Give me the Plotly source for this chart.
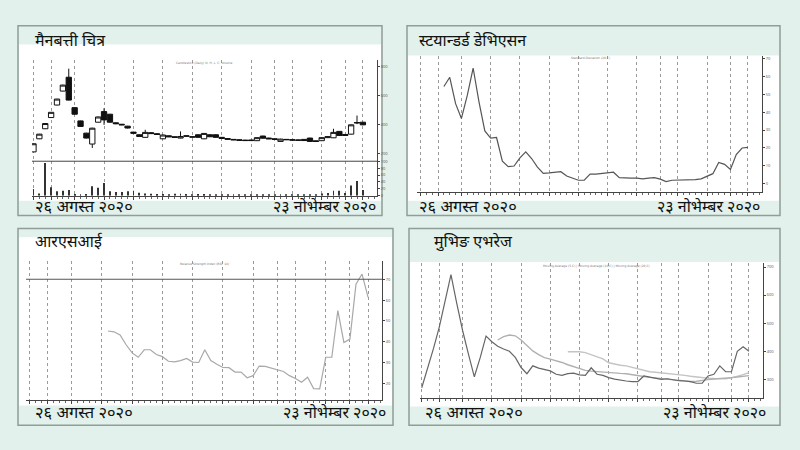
import plotly.graph_objects as go

W, H = 800, 450
def px(x):
    return x / W
def py(y):
    return 1 - y / H

# ---------------- data ----------------
days = list(range(57))
grid_days = [0, 3, 7, 12, 17, 22, 27, 32, 37, 41, 44, 49, 53, 56]

opens = [214, 304, 373, 450, 536, 632, 727, 518, 427, 343, 268, 418, 491, 473, 414, 404, 391, 350, 332, 314,
         346, 339, 304, 325, 318, 309, 325, 318, 332, 304, 332, 332, 314, 306, 300, 297, 295, 296, 291, 323,
         309, 304, 286, 300, 298, 296, 300, 309, 290, 291, 312, 311, 355, 334, 336, 412, 418]
highs = [272, 338, 411, 488, 579, 676, 786, 520, 429, 345, 380, 457, 514, 475, 416, 406, 393, 352, 334, 366,
         350, 342, 334, 327, 320, 355, 327, 320, 334, 344, 334, 334, 316, 308, 302, 299, 297, 298, 314, 325,
         311, 306, 304, 302, 300, 298, 302, 311, 292, 314, 322, 373, 357, 336, 403, 464, 420]
lows = [212, 302, 371, 448, 534, 630, 568, 471, 387, 307, 241, 416, 400, 416, 404, 398, 375, 340, 318, 312,
        338, 332, 302, 316, 312, 307, 320, 313, 312, 302, 316, 312, 304, 299, 295, 292, 290, 290, 289, 306,
        302, 298, 284, 296, 293, 292, 290, 284, 284, 289, 310, 309, 325, 325, 334, 405, 398]
closes = [270, 336, 409, 486, 577, 673, 570, 473, 389, 309, 377, 454, 434, 418, 408, 400, 378, 342, 320, 348,
          340, 334, 330, 318, 314, 320, 322, 316, 314, 341, 318, 314, 306, 301, 297, 294, 292, 292, 312, 308,
          304, 300, 302, 298, 295, 294, 292, 286, 286, 312, 318, 348, 327, 327, 400, 416, 400]
volumes = [20, 7, 95, 25, 13, 15, 17, 5, 3, 5, 28, 23, 37, 13, 11, 11, 13, 15, 9, 7,
           6, 5, 5, 4, 6, 6, 5, 4, 5, 5, 4, 4, 4, 3, 3, 3, 3, 3, 4, 3,
           3, 3, 3, 3, 3, 3, 3, 3, 4, 7, 8, 15, 15, 8, 30, 43, 17]

sd_days = days[4:]
sd_values = [54.4, 59.6, 44.8, 36.5, 49.4, 64.8, 45.8, 29.5, 25.5, 25.8, 12.5, 9.4, 9.8, 14.4, 17.7, 14.0,
             9.2, 5.7, 5.9, 6.3, 6.6, 4.2, 2.8, 1.8, 1.8, 5.2, 5.2, 5.5, 6.1, 6.3, 3.3, 3.0, 3.0, 3.0,
             2.6, 3.0, 3.3, 2.4, 1.1, 1.8, 1.8, 2.0, 1.8, 2.2, 2.6, 4.2, 5.5, 11.8, 10.7, 7.9, 16.2, 19.9, 20.3]

rsi_days = days[13:]
rsi_values = [45.2, 44.8, 43.3, 38.6, 34.7, 32.6, 36.2, 36.2, 33.9, 32.9, 30.7, 30.4, 31.0, 32.0, 30.3,
              30.1, 36.2, 31.0, 29.3, 27.7, 27.6, 25.5, 25.5, 22.8, 23.8, 28.4, 28.2, 27.4, 26.6, 25.8,
              23.8, 22.4, 20.6, 23.0, 17.6, 17.5, 32.6, 32.6, 55.0, 39.7, 41.3, 67.6, 72.5, 61.3]
rsi_level = 70

ma_a_days = days[13:]
ma_a = [440, 452, 458, 455, 440, 420, 401, 388, 377, 372, 367, 360, 352, 345, 338, 332, 329, 327, 326, 325,
        323, 321, 320, 316, 312, 310, 307, 305, 303, 300, 299, 297, 294, 292, 293, 297, 299, 301, 302, 304,
        306, 308, 310, 313]
ma_b_days = days[25:]
ma_b = [398, 399, 398, 395, 388, 380, 373, 359, 354, 350, 348, 343, 338, 333, 327, 325, 323, 322, 320, 317,
        314, 311, 308, 306, 304, 303, 302, 302, 305, 310, 317, 324]

titles = ["मैनबत्ती चित्र", "स्टयान्डर्ड डेभिएसन", "आरएसआई", "मुभिङ एभरेज"]
date_start = "२६ अगस्त २०२०"
date_end = "२३ नोभेम्बर २०२०"
mini_titles = ["Candlestick (Daily) O, H, L, C, Volume",
               "Standard Deviation (20,C)",
               "Relative Strength Index (RSI, 14)",
               "Moving Average (5,C) | Moving Average (10,C) | Moving Average (20,C)"]

# ---------------- style ----------------
BG = "#e2f1eb"
BORDER = "#8f9e98"
TXT = "#111111"
DEV = "Noto Sans Devanagari, Noto Sans, sans-serif"

fig = go.Figure()

fig.add_trace(go.Candlestick(
    x=days, open=opens, high=highs, low=lows, close=closes,
    xaxis="x", yaxis="y", whiskerwidth=0, showlegend=False,
    increasing=dict(line=dict(color="#111", width=1), fillcolor="white"),
    decreasing=dict(line=dict(color="#111", width=1), fillcolor="#111"),
    hoverinfo="skip"))
fig.add_trace(go.Bar(x=days, y=volumes, xaxis="x", yaxis="y2", width=0.16,
                     marker=dict(color="#333", line=dict(width=0)), showlegend=False))
fig.add_trace(go.Scatter(x=sd_days, y=sd_values, xaxis="x2", yaxis="y3", mode="lines",
                         line=dict(color="#555", width=1.2), showlegend=False))
fig.add_trace(go.Scatter(x=rsi_days, y=rsi_values, xaxis="x3", yaxis="y4", mode="lines",
                         line=dict(color="#a8a8a8", width=1.2), showlegend=False))
fig.add_trace(go.Scatter(x=ma_b_days, y=ma_b, xaxis="x4", yaxis="y5", mode="lines",
                         line=dict(color="#c4c4c4", width=1.4), showlegend=False))
fig.add_trace(go.Scatter(x=ma_a_days, y=ma_a, xaxis="x4", yaxis="y5", mode="lines",
                         line=dict(color="#b0b0b0", width=1.4), showlegend=False))
fig.add_trace(go.Scatter(x=days, y=closes, xaxis="x4", yaxis="y5", mode="lines",
                         line=dict(color="#666", width=1.2), showlegend=False))

def xax(x0, x1, rng, anchor):
    return dict(domain=[px(x0), px(x1)], range=rng, anchor=anchor,
                tickvals=grid_days, showticklabels=False, showgrid=True,
                gridcolor="#9a9a9a", griddash="dot", gridwidth=1,
                showline=True, linecolor="#444", linewidth=1,
                ticks="outside", ticklen=3, tickcolor="#444",
                minor=dict(ticks="outside", ticklen=2, dtick=1, tick0=0, tickcolor="#666", showgrid=False),
                zeroline=False, fixedrange=True, rangeslider=dict(visible=False))

def yax(y_top, y_bot, rng, anchor, tickvals):
    return dict(domain=[py(y_bot), py(y_top)], range=rng, anchor=anchor, side="right",
                tickvals=tickvals, showgrid=False, showline=True, linecolor="#444", linewidth=1,
                ticks="outside", ticklen=2, tickcolor="#444",
                tickfont=dict(size=4, color="#555"), zeroline=False, fixedrange=True)

layout = dict(
    width=W, height=H, autosize=False, margin=dict(l=0, r=0, t=0, b=0),
    paper_bgcolor=BG, plot_bgcolor="rgba(0,0,0,0)", showlegend=False,
    boxgap=0.05, boxgroupgap=0.05,
    xaxis=xax(32, 377, [-0.25, 58.4], "y2"),
    yaxis=yax(58, 160, [150, 843], "x", [200, 400, 600, 800]),
    yaxis2=yax(160, 195, [0, 100], "x", [0, 20, 40, 60, 80, 100]),
    xaxis2=xax(417, 762, [-0.6, 58.4], "y3"),
    yaxis3=yax(53.5, 191.5, [-5, 71.6], "x2", [0, 10, 20, 30, 40, 50, 60, 70]),
    xaxis3=xax(26, 382, [-0.55, 58.3], "y4"),
    yaxis4=yax(261, 401.5, [12.1, 78.7], "x3", [20, 30, 40, 50, 60, 70]),
    xaxis4=xax(420, 763, [-0.3, 58.4], "y5"),
    yaxis5=yax(263, 399, [235, 714], "x4", [300, 400, 500, 600, 700]),
)
fig.update_layout(**layout)

shapes = []
panels = [
    # box x0, y0, x1, y1, white top, white bottom
    (18, 23, 382, 215, 42, 200),
    (407, 23, 780, 215, 53, 200),
    (18, 228, 393, 427, 237, 407),
    (409, 228, 780, 427, 262, 408),
]
for (x0, y0, x1, y1, wt, wb) in panels:
    shapes.append(dict(type="rect", xref="paper", yref="paper", layer="below",
                       x0=px(x0), x1=px(x1), y0=py(y1), y1=py(y0),
                       fillcolor=BG, line=dict(color=BORDER, width=1.5)))
    shapes.append(dict(type="rect", xref="paper", yref="paper", layer="below",
                       x0=px(x0 + 1), x1=px(x1 - 1), y0=py(wb), y1=py(wt),
                       fillcolor="white", line=dict(width=0)))
# separator between price and volume
shapes.append(dict(type="line", xref="x domain", yref="y domain", x0=0, x1=1, y0=0, y1=0,
                   line=dict(color="#444", width=1)))
# RSI 70 level
shapes.append(dict(type="line", xref="x3 domain", yref="y4", x0=0, x1=1, y0=rsi_level, y1=rsi_level,
                   line=dict(color="#555", width=1)))
fig.update_layout(shapes=shapes)

ann = []
title_pos = [(33, 39), (417, 39), (33, 243), (432, 243)]
for t, (x, y) in zip(titles, title_pos):
    ann.append(dict(text=t, x=px(x), y=py(y), xref="paper", yref="paper", xanchor="left",
                    yanchor="middle", showarrow=False, font=dict(family=DEV, size=16, color=TXT)))
date_pos = [((33, 378), 207), ((417, 762), 207), ((33, 388), 416), ((423, 768), 416)]
for (xl, xr), y in date_pos:
    ann.append(dict(text=date_start, x=px(xl), y=py(y), xref="paper", yref="paper", xanchor="left",
                    yanchor="middle", showarrow=False, font=dict(family=DEV, size=16.5, color=TXT)))
    ann.append(dict(text=date_end, x=px(xr), y=py(y), xref="paper", yref="paper", xanchor="right",
                    yanchor="middle", showarrow=False, font=dict(family=DEV, size=16, color=TXT)))
mini_pos = [(204, 61), (590, 56), (204, 264), (596, 266)]
for t, (x, y) in zip(mini_titles, mini_pos):
    ann.append(dict(text=t, x=px(x), y=py(y), xref="paper", yref="paper", xanchor="center",
                    yanchor="middle", showarrow=False, font=dict(family="DejaVu Sans", size=3, color="#777")))
fig.update_layout(annotations=ann)

fig.write_html("out.html")
